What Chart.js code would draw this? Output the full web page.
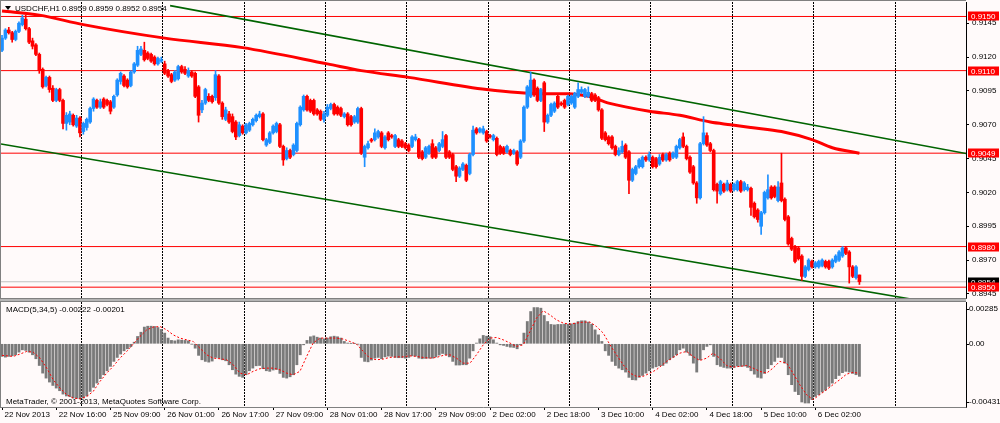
<!DOCTYPE html>
<html><head><meta charset="utf-8">
<script src="https://cdn.jsdelivr.net/npm/chart.js@4.4.0/dist/chart.umd.min.js"></script>
<style>
html,body{margin:0;padding:0;background:#fffafa;}
#wrap{position:relative;width:1000px;height:423px;overflow:hidden;background:#fffafa;}
#c1{position:absolute;left:0;top:0;}
#c2{position:absolute;left:0;top:299px;}
</style></head><body>
<div id="wrap"><canvas id="c1" width="1000" height="299"></canvas><canvas id="c2" width="1000" height="124"></canvas></div>
<script>
// ---------------- DATA ----------------
const SYMBOL = 'USDCHF,H1';
const MACD_NAME = 'MACD(5,34,5)';
const COPYRIGHT = 'MetaTrader, \u00a9 2001-2013, MetaQuotes Software Corp.';

const opens = [0.9125,0.9134,0.9140,0.9138,0.9133,0.9139,0.9144,0.9148,0.9141,0.9132,0.9129,0.9122,0.9111,0.9099,0.9105,0.9097,0.9088,0.9096,0.9088,0.9071,
0.9072,0.9077,0.9069,0.9075,0.9065,0.9068,0.9072,0.9082,0.9088,0.9083,0.9089,0.9088,0.9087,0.9083,0.9092,0.9102,0.9106,0.9103,0.9099,0.9109,
0.9114,0.9122,0.9125,0.9123,0.9122,0.9120,0.9115,0.9117,0.9115,0.9110,0.9107,0.9103,0.9104,0.9113,0.9111,0.9106,0.9109,0.9108,0.9098,0.9081,
0.9086,0.9091,0.9091,0.9090,0.9106,0.9086,0.9074,0.9078,0.9076,0.9072,0.9062,0.9069,0.9064,0.9066,0.9070,0.9073,0.9076,0.9078,0.9055,0.9057,
0.9064,0.9065,0.9070,0.9054,0.9045,0.9051,0.9048,0.9051,0.9070,0.9081,0.9091,0.9088,0.9088,0.9081,0.9080,0.9074,0.9077,0.9082,0.9085,0.9083,
0.9082,0.9076,0.9078,0.9076,0.9072,0.9072,0.9082,0.9046,0.9053,0.9059,0.9059,0.9061,0.9064,0.9053,0.9064,0.9062,0.9054,0.9059,0.9058,0.9056,
0.9055,0.9054,0.9059,0.9059,0.9050,0.9046,0.9049,0.9056,0.9053,0.9051,0.9054,0.9062,0.9050,0.9048,0.9039,0.9032,0.9037,0.9040,0.9034,0.9048,
0.9067,0.9065,0.9064,0.9065,0.9062,0.9059,0.9060,0.9054,0.9053,0.9050,0.9051,0.9049,0.9050,0.9046,0.9058,0.9083,0.9091,0.9103,0.9097,0.9088,
0.9101,0.9072,0.9077,0.9080,0.9091,0.9086,0.9088,0.9085,0.9086,0.9083,0.9091,0.9094,0.9091,0.9091,0.9093,0.9092,0.9090,0.9081,0.9064,0.9061,
0.9061,0.9054,0.9048,0.9050,0.9055,0.9050,0.9029,0.9034,0.9039,0.9039,0.9046,0.9044,0.9046,0.9045,0.9041,0.9048,0.9044,0.9049,0.9046,0.9046,
0.9053,0.9061,0.9054,0.9046,0.9039,0.9027,0.9016,0.9056,0.9062,0.9056,0.9051,0.9026,0.9019,0.9026,0.9022,0.9026,0.9022,0.9022,0.9028,0.9022,
0.9022,0.9023,0.9012,0.9007,0.8995,0.9005,0.9016,0.9024,0.9024,0.9014,0.9027,0.9015,0.9002,0.8986,0.8980,0.8979,0.8973,0.8958,0.8963,0.8969,
0.8965,0.8965,0.8966,0.8969,0.8969,0.8965,0.8969,0.8970,0.8973,0.8979,0.8976,0.8965,0.8957,0.8959];
const highs = [0.9136,0.9141,0.9142,0.9139,0.9140,0.9146,0.9151,0.9151,0.9142,0.9134,0.9130,0.9123,0.9112,0.9106,0.9106,0.9099,0.9097,0.9097,0.9089,0.9079,
0.9080,0.9078,0.9077,0.9076,0.9072,0.9075,0.9083,0.9090,0.9089,0.9089,0.9090,0.9089,0.9088,0.9092,0.9104,0.9109,0.9107,0.9104,0.9110,0.9116,
0.9128,0.9128,0.9131,0.9124,0.9123,0.9121,0.9120,0.9120,0.9117,0.9111,0.9108,0.9110,0.9114,0.9114,0.9113,0.9112,0.9110,0.9109,0.9099,0.9088,
0.9097,0.9093,0.9092,0.9110,0.9107,0.9087,0.9083,0.9080,0.9078,0.9073,0.9072,0.9070,0.9071,0.9072,0.9075,0.9078,0.9080,0.9079,0.9060,0.9065,
0.9070,0.9072,0.9071,0.9055,0.9053,0.9052,0.9056,0.9072,0.9084,0.9092,0.9092,0.9089,0.9089,0.9082,0.9081,0.9080,0.9085,0.9086,0.9086,0.9084,
0.9083,0.9079,0.9079,0.9077,0.9077,0.9083,0.9083,0.9055,0.9058,0.9060,0.9067,0.9066,0.9065,0.9062,0.9065,0.9063,0.9063,0.9060,0.9059,0.9057,
0.9056,0.9062,0.9063,0.9060,0.9051,0.9054,0.9055,0.9059,0.9054,0.9057,0.9065,0.9063,0.9051,0.9049,0.9040,0.9039,0.9042,0.9041,0.9049,0.9069,
0.9068,0.9068,0.9069,0.9066,0.9063,0.9063,0.9061,0.9055,0.9054,0.9055,0.9052,0.9052,0.9051,0.9059,0.9084,0.9099,0.9109,0.9104,0.9098,0.9097,
0.9102,0.9078,0.9086,0.9087,0.9092,0.9087,0.9089,0.9092,0.9092,0.9094,0.9101,0.9098,0.9097,0.9098,0.9094,0.9093,0.9091,0.9082,0.9065,0.9062,
0.9062,0.9055,0.9053,0.9058,0.9056,0.9051,0.9038,0.9040,0.9045,0.9047,0.9047,0.9050,0.9047,0.9046,0.9048,0.9049,0.9049,0.9050,0.9050,0.9055,
0.9060,0.9064,0.9055,0.9047,0.9040,0.9028,0.9057,0.9076,0.9064,0.9057,0.9052,0.9027,0.9029,0.9027,0.9029,0.9027,0.9027,0.9029,0.9029,0.9028,
0.9026,0.9024,0.9013,0.9008,0.9006,0.9021,0.9033,0.9025,0.9025,0.9028,0.9049,0.9016,0.9003,0.8987,0.8981,0.8980,0.8974,0.8966,0.8971,0.8970,
0.8969,0.8970,0.8971,0.8970,0.8970,0.8971,0.8974,0.8977,0.8980,0.8980,0.8977,0.8966,0.8966,0.8959];
const lows = [0.9124,0.9133,0.9137,0.9131,0.9132,0.9138,0.9143,0.9140,0.9130,0.9126,0.9121,0.9108,0.9097,0.9098,0.9094,0.9087,0.9087,0.9087,0.9067,0.9066,
0.9070,0.9069,0.9068,0.9061,0.9063,0.9066,0.9071,0.9080,0.9082,0.9082,0.9082,0.9084,0.9078,0.9082,0.9091,0.9100,0.9098,0.9097,0.9098,0.9108,
0.9113,0.9121,0.9117,0.9118,0.9116,0.9114,0.9114,0.9116,0.9107,0.9105,0.9101,0.9102,0.9103,0.9108,0.9107,0.9105,0.9105,0.9090,0.9072,0.9079,
0.9085,0.9087,0.9086,0.9088,0.9085,0.9074,0.9073,0.9071,0.9064,0.9059,0.9061,0.9063,0.9063,0.9065,0.9069,0.9072,0.9075,0.9058,0.9054,0.9056,
0.9063,0.9064,0.9053,0.9040,0.9044,0.9045,0.9047,0.9050,0.9069,0.9080,0.9080,0.9079,0.9077,0.9077,0.9073,0.9072,0.9076,0.9081,0.9077,0.9077,
0.9076,0.9075,0.9069,0.9069,0.9071,0.9071,0.9048,0.9039,0.9052,0.9057,0.9058,0.9060,0.9053,0.9052,0.9058,0.9060,0.9053,0.9053,0.9053,0.9052,
0.9050,0.9053,0.9058,0.9045,0.9044,0.9045,0.9048,0.9045,0.9045,0.9050,0.9053,0.9045,0.9045,0.9036,0.9028,0.9031,0.9036,0.9028,0.9033,0.9047,
0.9063,0.9064,0.9063,0.9057,0.9060,0.9058,0.9047,0.9048,0.9048,0.9049,0.9047,0.9048,0.9040,0.9045,0.9057,0.9082,0.9090,0.9091,0.9087,0.9087,
0.9065,0.9071,0.9076,0.9079,0.9082,0.9084,0.9082,0.9084,0.9085,0.9082,0.9090,0.9093,0.9090,0.9090,0.9087,0.9087,0.9080,0.9059,0.9058,0.9055,
0.9052,0.9047,0.9047,0.9049,0.9045,0.9019,0.9028,0.9033,0.9038,0.9038,0.9043,0.9043,0.9038,0.9038,0.9040,0.9043,0.9043,0.9043,0.9045,0.9045,
0.9052,0.9053,0.9044,0.9034,0.9026,0.9012,0.9015,0.9055,0.9054,0.9050,0.9021,0.9012,0.9018,0.9020,0.9021,0.9020,0.9021,0.9021,0.9020,0.9021,
0.9021,0.9003,0.9001,0.8998,0.8989,0.9004,0.9015,0.9015,0.9016,0.9013,0.9013,0.8999,0.8981,0.8977,0.8968,0.8970,0.8955,0.8957,0.8962,0.8964,
0.8964,0.8964,0.8965,0.8964,0.8963,0.8964,0.8968,0.8969,0.8972,0.8974,0.8953,0.8957,0.8956,0.8952];
const closes = [0.9134,0.9140,0.9138,0.9133,0.9139,0.9145,0.9149,0.9141,0.9131,0.9128,0.9122,0.9110,0.9098,0.9105,0.9096,0.9088,0.9096,0.9088,0.9071,0.9077,
0.9078,0.9070,0.9075,0.9064,0.9071,0.9074,0.9082,0.9089,0.9083,0.9087,0.9083,0.9085,0.9080,0.9091,0.9103,0.9108,0.9099,0.9098,0.9109,0.9115,
0.9125,0.9126,0.9118,0.9119,0.9117,0.9115,0.9119,0.9118,0.9108,0.9106,0.9102,0.9109,0.9113,0.9109,0.9108,0.9110,0.9106,0.9091,0.9077,0.9086,
0.9096,0.9088,0.9087,0.9107,0.9086,0.9076,0.9081,0.9072,0.9065,0.9061,0.9070,0.9064,0.9070,0.9071,0.9074,0.9077,0.9078,0.9059,0.9059,0.9064,
0.9069,0.9071,0.9054,0.9044,0.9051,0.9046,0.9055,0.9071,0.9083,0.9091,0.9081,0.9080,0.9078,0.9078,0.9074,0.9078,0.9083,0.9085,0.9078,0.9078,
0.9077,0.9078,0.9070,0.9070,0.9076,0.9082,0.9049,0.9054,0.9056,0.9058,0.9064,0.9065,0.9054,0.9061,0.9059,0.9061,0.9062,0.9054,0.9054,0.9053,
0.9051,0.9061,0.9061,0.9046,0.9045,0.9053,0.9054,0.9046,0.9046,0.9056,0.9059,0.9046,0.9046,0.9037,0.9032,0.9038,0.9041,0.9029,0.9048,0.9066,
0.9064,0.9067,0.9067,0.9058,0.9061,0.9062,0.9048,0.9049,0.9049,0.9054,0.9048,0.9051,0.9041,0.9058,0.9083,0.9098,0.9103,0.9092,0.9088,0.9096,
0.9072,0.9077,0.9085,0.9086,0.9083,0.9085,0.9083,0.9091,0.9091,0.9093,0.9096,0.9096,0.9096,0.9094,0.9088,0.9088,0.9081,0.9060,0.9059,0.9056,
0.9053,0.9048,0.9051,0.9054,0.9046,0.9029,0.9037,0.9039,0.9044,0.9046,0.9044,0.9048,0.9039,0.9039,0.9046,0.9044,0.9048,0.9044,0.9049,0.9054,
0.9059,0.9054,0.9045,0.9035,0.9027,0.9016,0.9056,0.9064,0.9055,0.9051,0.9022,0.9021,0.9028,0.9021,0.9027,0.9021,0.9026,0.9028,0.9021,0.9027,
0.9024,0.9009,0.9002,0.9000,0.9005,0.9020,0.9022,0.9016,0.9017,0.9024,0.9014,0.9000,0.8982,0.8978,0.8969,0.8971,0.8958,0.8965,0.8970,0.8965,
0.8968,0.8969,0.8970,0.8965,0.8964,0.8970,0.8973,0.8976,0.8979,0.8975,0.8965,0.8958,0.8965,0.8954];

const macdHist = [-0.00086,-0.00091,-0.00086,-0.00082,-0.00075,-0.00057,-0.00041,-0.00045,-0.00057,-0.00075,
-0.00102,-0.00148,-0.00200,-0.00234,-0.00261,-0.00284,-0.00302,-0.00320,-0.00343,-0.00356,
-0.00361,-0.00370,-0.00372,-0.00375,-0.00370,-0.00356,-0.00325,-0.00297,-0.00268,-0.00238,
-0.00211,-0.00184,-0.00154,-0.00120,-0.00093,-0.00070,-0.00048,-0.00034,-0.00020,0.00011,
0.00050,0.00079,0.00114,0.00120,0.00120,0.00118,0.00111,0.00098,0.00073,0.00039,
0.00023,0.00020,0.00027,0.00025,0.00023,0.00020,-0.00002,-0.00030,-0.00079,-0.00109,
-0.00120,-0.00125,-0.00118,-0.00093,-0.00098,-0.00109,-0.00116,-0.00143,-0.00177,-0.00207,
-0.00222,-0.00229,-0.00211,-0.00184,-0.00166,-0.00150,-0.00148,-0.00170,-0.00184,-0.00188,
-0.00179,-0.00175,-0.00202,-0.00229,-0.00234,-0.00225,-0.00211,-0.00143,-0.00075,-0.00007,
0.00023,0.00048,0.00054,0.00045,0.00039,0.00034,0.00039,0.00048,0.00052,0.00048,
0.00039,0.00016,0.00005,0.00002,0.00002,-0.00002,-0.00093,-0.00120,-0.00123,-0.00111,
-0.00098,-0.00093,-0.00102,-0.00089,-0.00084,-0.00086,-0.00093,-0.00095,-0.00095,-0.00098,
-0.00093,-0.00082,-0.00084,-0.00098,-0.00102,-0.00100,-0.00098,-0.00098,-0.00089,-0.00077,
-0.00066,-0.00075,-0.00089,-0.00120,-0.00145,-0.00145,-0.00143,-0.00143,-0.00098,-0.00048,
0.00005,0.00034,0.00057,0.00052,0.00048,0.00027,0.00005,-0.00007,-0.00011,-0.00018,
-0.00023,-0.00025,-0.00034,-0.00007,0.00073,0.00152,0.00220,0.00247,0.00247,0.00243,
0.00193,0.00152,0.00132,0.00129,0.00132,0.00132,0.00134,0.00134,0.00136,0.00141,
0.00152,0.00157,0.00157,0.00148,0.00134,0.00095,0.00061,0.00016,-0.00048,-0.00079,
-0.00120,-0.00148,-0.00166,-0.00177,-0.00193,-0.00229,-0.00245,-0.00247,-0.00229,-0.00216,
-0.00200,-0.00184,-0.00166,-0.00157,-0.00150,-0.00148,-0.00132,-0.00109,-0.00093,-0.00075,
-0.00041,-0.00030,-0.00057,-0.00079,-0.00132,-0.00193,-0.00109,-0.00041,-0.00018,-0.00007,
-0.00086,-0.00143,-0.00154,-0.00161,-0.00166,-0.00166,-0.00161,-0.00152,-0.00154,-0.00152,
-0.00161,-0.00184,-0.00207,-0.00229,-0.00234,-0.00202,-0.00170,-0.00143,-0.00120,-0.00093,
-0.00093,-0.00132,-0.00211,-0.00279,-0.00325,-0.00347,-0.00397,-0.00404,-0.00404,-0.00381,
-0.00359,-0.00347,-0.00329,-0.00316,-0.00291,-0.00268,-0.00238,-0.00216,-0.00197,-0.00188,
-0.00193,-0.00202,-0.00211,-0.00222];

const signalBars = [0,3.3,5.3,7.3,9.2,11.2,13.2,15.1,17.1,19.1,21,23,25,26.9,28.9,30.9,32.8,34.8,36.8,38.7,
40.7,42.7,44.6,46.6,48.6,50.5,52.5,54.5,56.4,58.4,60.4,62.3,64.3,66.3,68.2,70.2,72.2,74.1,76.1,78.1,
80,82,84,85.9,87.9,89.9,91.8,93.8,95.8,
98.7,100.7,102.6,104.6,106.6,108.5,110.5,112.5,114.4,116.4,118.4,120.3,122.3,124.3,126.2,128.2,130.2,132.2,134.1,136.1,
138.1,140,142,144,145.9,147.9,149.9,151.8,153.8,155.8,157.7,159.7,161.7,163.6,165.6,167.6,169.5,171.5,173.5,175.4,
177.4,179.4,181.3,183.3,185.3,187.2,189.2,191.2,193.1,
196.1,198,200,202,203.9,205.9,207.9,209.8,211.8,213.8,215.7,217.7,219.7,221.6,223.6,225.6,227.5,229.5,231.5,233.4,
235.4,237.4,239.3,241.3,243.3,245.2,247.2,249.2,251.1,253];
const signalVals = [-0.00079,-0.00086,-0.00070,-0.00052,-0.00057,-0.00098,-0.00166,-0.00245,-0.00302,-0.00347,
-0.00370,-0.00375,-0.00359,-0.00325,-0.00257,-0.00200,-0.00154,-0.00098,-0.00052,-0.00002,
0.00050,0.00095,0.00114,0.00118,0.00095,0.00061,0.00039,0.00027,0.00016,-0.00030,
-0.00075,-0.00098,-0.00102,-0.00109,-0.00143,-0.00200,-0.00211,-0.00188,-0.00170,-0.00166,
-0.00166,-0.00177,-0.00200,-0.00211,-0.00188,-0.00086,0.00005,0.00039,0.00039,
0.00039,0.00032,0.00016,-0.00002,-0.00052,-0.00098,-0.00109,-0.00104,-0.00093,-0.00089,
-0.00089,-0.00082,-0.00086,-0.00093,-0.00098,-0.00093,-0.00079,-0.00075,-0.00098,-0.00132,
-0.00132,-0.00075,-0.00007,0.00039,0.00043,0.00027,0.00005,-0.00018,-0.00007,0.00084,
0.00175,0.00225,0.00197,0.00163,0.00141,0.00134,0.00141,0.00148,0.00148,0.00118,
0.00073,-0.00007,-0.00075,-0.00143,-0.00200,-0.00222,-0.00222,-0.00200,-0.00177,
-0.00120,-0.00093,-0.00064,-0.00052,-0.00086,-0.00114,-0.00098,-0.00064,-0.00098,-0.00148,
-0.00159,-0.00154,-0.00148,-0.00166,-0.00188,-0.00200,-0.00166,-0.00120,-0.00132,-0.00200,
-0.00279,-0.00347,-0.00381,-0.00347,-0.00313,-0.00279,-0.00245,-0.00207,-0.00195,-0.00201];

const maBars = [0,11,24,48,71,96,106,120,143,159,167,173,179,191,200,209,215,221,230,239,245,253];
const maVals = [0.9154,0.9151,0.9144,0.9134,0.9127,0.9115,0.9110,0.9105,0.9096,0.9093,0.9093,0.9091,0.9086,0.9080,0.9077,0.9072,0.9070,0.9068,0.9065,0.9059,0.9053,0.9049];

const levelPrices = [0.9150, 0.9110, 0.9049, 0.8980, 0.8950];
const bidPrice = 0.8954;
const trendUpperBars = [49.6, 284.45], trendUpperPrices = [0.9158, 0.90488];
const trendLowerBars = [-0.3, 268.0], trendLowerPrices = [0.90558, 0.89413];

const priceTicks = [0.8945,0.8970,0.8995,0.9020,0.9045,0.9070,0.9095,0.9120,0.9145];
const macdTickVals = [0.00285, 0, -0.00431];
const macdTickLabels = ['0.00285', '0.00', '-0.00431'];
const timeLabels = ['22 Nov 2013','22 Nov 16:00','25 Nov 09:00','26 Nov 01:00','26 Nov 17:00','27 Nov 09:00','28 Nov 01:00','28 Nov 17:00','29 Nov 09:00','2 Dec 02:00','2 Dec 18:00','3 Dec 10:00','4 Dec 02:00','4 Dec 18:00','5 Dec 10:00','6 Dec 02:00'];
const LABEL_EVERY = 16;     // bars between time labels
const GRID_FIRST = 23.5, GRID_EVERY = 24;  // day separators (bars)

// ---------------- LAYOUT / STYLE ----------------
const XMIN = -0.3, XMAX = 284.45;
const YMIN = 0.89420, YMAX = 0.91607;
const MMIN = -0.00431, MMAX = 0.00285;
const AXW = 34;
const BG = '#fffafa';
const FONT_FAMILY = '"Liberation Sans", Arial, sans-serif';
const FONT = {family: FONT_FAMILY, size: 8};
const UP = '#1e90ff', DOWN = '#ff0000';

const n = closes.length;
const idx = closes.map((_, i) => i);
const candleColors = idx.map(i => closes[i] >= opens[i] ? UP : DOWN);
const f4 = v => v.toFixed(4);

function gridTicks(s) {
  const t = [];
  for (let v = GRID_FIRST; v < XMAX; v += GRID_EVERY) t.push({value: v});
  s.ticks = t;
}
const gridAxis = {
  type: 'linear', min: XMIN, max: XMAX, offset: false, position: 'bottom',
  afterBuildTicks: gridTicks,
  ticks: {display: false},
  grid: {offset: false, drawTicks: false, color: '#000', lineWidth: 1},
  border: {display: false, dash: [2, 1]},
  afterFit: s => { s.height = 0; s.paddingLeft = 0; s.paddingRight = 0; }
};

const bgPlugin = {
  id: 'bg',
  beforeDraw(chart) {
    const c = chart.ctx;
    c.save(); c.fillStyle = BG; c.fillRect(0, 0, chart.width, chart.height); c.restore();
  }
};

function line(c, x1, y1, x2, y2, color) {
  c.strokeStyle = color; c.lineWidth = 1; c.beginPath(); c.moveTo(x1, y1); c.lineTo(x2, y2); c.stroke();
}

const mainDecor = {
  id: 'mainDecor',
  afterDraw(chart) {
    const c = chart.ctx, a = chart.chartArea, ys = chart.scales.y;
    c.save();
    line(c, 0.5, 0, 0.5, 299, '#808080');
    line(c, 0, 0.5, a.right, 0.5, '#808080');
    line(c, 0, 298.5, a.right + 0.5, 298.5, '#808080');
    // title
    c.fillStyle = '#000';
    c.beginPath(); c.moveTo(5, 6); c.lineTo(11, 6); c.lineTo(8, 10); c.closePath(); c.fill();
    c.font = '8px ' + FONT_FAMILY; c.textBaseline = 'middle'; c.textAlign = 'left';
    const L = n - 1;
    c.fillText(`${SYMBOL} ${f4(opens[L])} ${f4(highs[L])} ${f4(lows[L])} ${f4(closes[L])}`, 15, 8.5);
    // price tags
    const tag = (p, bg) => {
      const y = Math.round(ys.getPixelForValue(p));
      c.fillStyle = bg; c.fillRect(968, y - 4.5, 31, 9);
      c.fillStyle = '#fff'; c.fillText(f4(p), 971, y + 0.5);
    };
    tag(bidPrice, '#000');
    levelPrices.forEach(p => tag(p, '#ff0000'));
    c.restore();
  }
};

const macdDecor = {
  id: 'macdDecor',
  afterDraw(chart) {
    const c = chart.ctx, a = chart.chartArea, ys = chart.scales.y;
    c.save();
    c.fillStyle = '#b4b4b4'; c.fillRect(0, 0, a.right, 2);
    line(c, 0, 2.5, a.right, 2.5, '#808080');
    line(c, 0.5, 2, 0.5, a.bottom, '#808080');
    line(c, 0, a.bottom + 0.5, a.right + 0.5, a.bottom + 0.5, '#808080');
    c.fillStyle = '#000'; c.font = '8px ' + FONT_FAMILY; c.textBaseline = 'middle'; c.textAlign = 'left';
    const L = macdHist.length - 1;
    c.fillText(`${MACD_NAME} ${macdHist[L].toFixed(5)} ${signalVals[signalVals.length - 1].toFixed(5)}`, 6, 11);
    c.fillText(COPYRIGHT, 6, 103);
    macdTickVals.forEach((v, k) => {
      let y = ys.getPixelForValue(v);
      if (k === 0) y += 7; else if (k === macdTickVals.length - 1) y -= 5;
      c.fillText(macdTickLabels[k], 969, y);
      line(c, a.right, Math.round(y) + 0.5, a.right + 3, Math.round(y) + 0.5, '#000');
    });
    c.restore();
  }
};

Chart.defaults.font.family = FONT_FAMILY;
Chart.defaults.font.size = 8;

// ---------------- MAIN PRICE CHART ----------------
new Chart(document.getElementById('c1'), {
  type: 'bar',
  data: {
    datasets: [
      {type: 'bar', data: idx.map(i => ({x: i, y: [Math.min(opens[i], closes[i]), Math.max(opens[i], closes[i])]})),
       backgroundColor: candleColors, barThickness: 3, grouped: false, minBarLength: 1, borderWidth: 0, order: 0},
      {type: 'bar', data: idx.map(i => ({x: i, y: [lows[i], highs[i]]})),
       backgroundColor: candleColors, barThickness: 1, grouped: false, borderWidth: 0, order: 1},
      {type: 'line', data: maBars.map((b, k) => ({x: b, y: maVals[k]})), borderColor: '#ff0000', borderWidth: 3,
       pointRadius: 0, cubicInterpolationMode: 'monotone', tension: 0.4, order: 2, clip: 0},
      {type: 'line', data: trendUpperBars.map((b, k) => ({x: b, y: trendUpperPrices[k]})), borderColor: '#006400', borderWidth: 1.6, pointRadius: 0, order: 3, clip: 0},
      {type: 'line', data: trendLowerBars.map((b, k) => ({x: b, y: trendLowerPrices[k]})), borderColor: '#006400', borderWidth: 1.6, pointRadius: 0, order: 3, clip: 0},
      ...levelPrices.map(p => ({type: 'line', data: [{x: XMIN, y: p}, {x: XMAX, y: p}], borderColor: '#ff0000',
       borderWidth: 1, pointRadius: 0, order: 4, clip: 0})),
      {type: 'line', data: [{x: XMIN, y: bidPrice}, {x: XMAX, y: bidPrice}], borderColor: '#c0c0c0', borderWidth: 1, pointRadius: 0, order: 5, clip: 0}
    ]
  },
  options: {
    responsive: false, animation: false, events: [],
    layout: {padding: {left: 1, top: 2, right: 0, bottom: 1}},
    plugins: {legend: {display: false}, tooltip: {enabled: false}},
    scales: {
      x: gridAxis,
      y: {
        type: 'linear', position: 'right', min: YMIN, max: YMAX,
        afterBuildTicks: s => { s.ticks = priceTicks.map(v => ({value: v})); },
        ticks: {font: FONT, color: '#000', padding: 3, callback: v => f4(v)},
        grid: {drawOnChartArea: false, drawTicks: true, tickLength: 3, color: '#000'},
        border: {display: true, color: '#000'},
        afterFit: s => { s.width = AXW; s.paddingTop = 0; s.paddingBottom = 0; }
      }
    }
  },
  plugins: [bgPlugin, mainDecor]
});

// ---------------- MACD CHART ----------------
new Chart(document.getElementById('c2'), {
  type: 'bar',
  data: {
    datasets: [
      {type: 'line', xAxisID: 'x', data: signalBars.map((b, k) => ({x: b, y: signalVals[k]})), borderColor: '#ff0000',
       borderWidth: 1, borderDash: [2, 2], pointRadius: 0, order: 0, clip: 0},
      {type: 'bar', xAxisID: 'x', data: idx.map(i => ({x: i, y: macdHist[i]})), backgroundColor: '#7a7a7a',
       barThickness: 2.2, grouped: false, borderWidth: 0, order: 1}
    ]
  },
  options: {
    responsive: false, animation: false, events: [],
    layout: {padding: {left: 1, top: 3, right: 0, bottom: 0}},
    plugins: {legend: {display: false}, tooltip: {enabled: false}},
    scales: {
      x: {
        type: 'linear', min: XMIN, max: XMAX, offset: false, position: 'bottom',
        afterBuildTicks: s => { s.ticks = timeLabels.map((_, k) => ({value: k * LABEL_EVERY})); },
        ticks: {autoSkip: false, maxRotation: 0, minRotation: 0, align: 'start', labelOffset: 2.5, padding: 0,
                font: FONT, color: '#000', callback: (v, i) => timeLabels[i]},
        grid: {offset: false, drawOnChartArea: false, drawTicks: true, tickLength: 3, color: '#000'},
        border: {display: false},
        afterFit: s => { s.height = 16; s.paddingLeft = 0; s.paddingRight = 0; }
      },
      xg: Object.assign({}, gridAxis, {axis: 'x'}),
      y: {
        type: 'linear', position: 'right', min: MMIN, max: MMAX,
        ticks: {display: false},
        grid: {drawOnChartArea: false, drawTicks: false},
        border: {display: true, color: '#000'},
        afterFit: s => { s.width = AXW; s.paddingTop = 0; s.paddingBottom = 0; }
      }
    }
  },
  plugins: [bgPlugin, macdDecor]
});
</script>
</body></html>
